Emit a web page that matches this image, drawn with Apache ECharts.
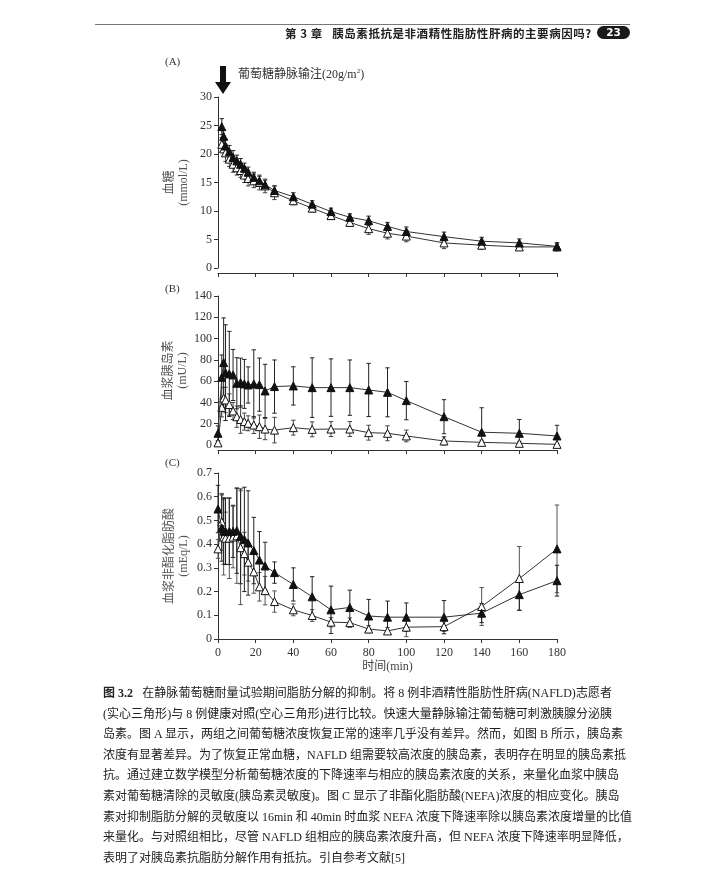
<!DOCTYPE html>
<html>
<head>
<meta charset="utf-8">
<script src="https://cdn.jsdelivr.net/npm/echarts@6/dist/echarts.min.js"></script>
<style>
  html, body { margin: 0; padding: 0; background: #fff; }
  #wrap { position: relative; width: 716px; height: 881px; overflow: hidden; }
  #chart { position: absolute; left: 0; top: 0; width: 716px; height: 881px; }
  #hdrline { position: absolute; left: 95px; top: 24px; width: 535px; height: 0; border-top: 1.2px solid #777; }
  #hdr { position: absolute; left: 285px; top: 25px; font-family: "Noto Sans CJK SC", sans-serif; font-weight: bold; font-size: 11.5px; color: #222; letter-spacing: 0.55px; white-space: nowrap; line-height: 16px; }
  #pill { position: absolute; left: 597px; top: 26px; width: 33px; height: 13px; border-radius: 7px; background: #1a1a1a; color: #fff; font-family: "DejaVu Sans", sans-serif; font-weight: bold; font-size: 10.5px; line-height: 13px; text-align: center; }
  #cap { position: absolute; left: 103px; top: 683px; width: 509px; font-family: "Liberation Serif", "Noto Sans CJK SC", serif; font-size: 12px; color: #222; }
  #cap div { height: 20.6px; line-height: 20.6px; text-align: justify; text-align-last: justify; white-space: nowrap; }
  #cap div.last { text-align-last: left; }
</style>
</head>
<body>
<div id="wrap">
  <div id="chart"></div>
  <div id="hdrline"></div>
  <div id="hdr">第 3 章&nbsp;&nbsp;&nbsp;胰岛素抵抗是非酒精性脂肪性肝病的主要病因吗?</div>
  <div id="pill">23</div>
  <div id="cap">
    <div><b>图 3.2</b>&nbsp;&nbsp;&nbsp;在静脉葡萄糖耐量试验期间脂肪分解的抑制。将 8 例非酒精性脂肪性肝病(NAFLD)志愿者</div>
    <div>(实心三角形)与 8 例健康对照(空心三角形)进行比较。快速大量静脉输注葡萄糖可刺激胰腺分泌胰</div>
    <div>岛素。图 A 显示，两组之间葡萄糖浓度恢复正常的速率几乎没有差异。然而，如图 B 所示，胰岛素</div>
    <div>浓度有显著差异。为了恢复正常血糖，NAFLD 组需要较高浓度的胰岛素，表明存在明显的胰岛素抵</div>
    <div>抗。通过建立数学模型分析葡萄糖浓度的下降速率与相应的胰岛素浓度的关系，来量化血浆中胰岛</div>
    <div>素对葡萄糖清除的灵敏度(胰岛素灵敏度)。图 C 显示了非酯化脂肪酸(NEFA)浓度的相应变化。胰岛</div>
    <div>素对抑制脂肪分解的灵敏度以 16min 和 40min 时血浆 NEFA 浓度下降速率除以胰岛素浓度增量的比值</div>
    <div>来量化。与对照组相比，尽管 NAFLD 组相应的胰岛素浓度升高，但 NEFA 浓度下降速率明显降低，</div>
    <div class="last">表明了对胰岛素抗脂肪分解作用有抵抗。引自参考文献[5]</div>
  </div>
</div>
<script>
// ---------- data ----------
const timesA = [2,3,4,6,8,10,12,14,16,19,22,25,30,40,50,60,70,80,90,100,120,140,160,180];
const timesBC = [0,2,3,4,6,8,10,12,14,16,19,22,25,30,40,50,60,70,80,90,100,120,140,160,180];

// Panel A: blood glucose (mmol/L)
const glucoseNafld = [24.8,23.1,21.4,20.4,19.4,18.8,18.2,17.5,16.8,15.9,15.3,14.6,13.6,12.5,11.2,9.9,8.9,8.3,7.3,6.4,5.5,4.7,4.4,3.8];
const glucoseNafldSd = [1.4,1.2,1.2,1.1,1.2,1.0,1.0,0.9,0.9,0.9,0.8,0.8,0.8,0.7,0.6,0.6,0.6,0.8,0.7,0.8,0.8,0.7,0.7,0.6];
const glucoseCtrl = [21.7,20.9,20.2,19.1,18.2,17.6,17.1,16.3,15.7,15.3,15.0,14.4,13.2,11.8,10.5,9.2,8.0,6.9,6.1,5.6,4.4,4.0,3.7,3.7];
const glucoseCtrlSd = [1.2,1.3,1.5,1.3,1.4,1.3,1.2,1.3,1.3,1.2,1.3,1.2,1.2,0.7,0.7,0.7,0.7,1.0,1.0,1.0,1.0,0.7,0.6,0.7];

// Panel B: plasma insulin (mU/L)
const insulinNafld = [11,63.6,77.4,68,66.8,65.8,58,58.6,57.4,56.4,57.4,56.7,50.8,54.9,55.5,53.9,53.9,53.9,51.7,49.5,41.7,26.6,12,11,8.5];
const insulinNafldSd = [7,21,42,45,40,24,24,23,23,17,32,25,25,25,18,28,27,26,25,23,18,16,23,13,10];
const insulinCtrl = [2,35.4,44,42.3,38,32,26.6,24,22,20.4,18.8,17.2,15,14,16.3,14.7,15,15,11.6,11,8.5,3.8,2.5,1.6,0.6];
const insulinCtrlSd = [1,9,10,12,10,8,10,13,8,7,8,11,10,12,7,7,7,7,7,7,5.5,4,2,1.5,1];

// Panel C: plasma NEFA (mEq/L)
const nefaNafld = [0.548,0.468,0.455,0.454,0.454,0.454,0.457,0.433,0.42,0.405,0.373,0.333,0.308,0.28,0.23,0.178,0.123,0.133,0.097,0.092,0.092,0.092,0.109,0.187,0.246];
const nefaNafldSd = [0.1,0.14,0.14,0.14,0.14,0.11,0.18,0.2,0.22,0.22,0.14,0.12,0.1,0.045,0.07,0.085,0.1,0.073,0.07,0.068,0.06,0.07,0.04,0.065,0.065];
const nefaCtrl = [0.38,0.494,0.43,0.425,0.425,0.43,0.435,0.385,0.36,0.324,0.283,0.22,0.204,0.158,0.123,0.099,0.071,0.069,0.042,0.034,0.05,0.052,0.137,0.255,0.38];
const nefaCtrlSd = [0.04,0.12,0.16,0.11,0.17,0.13,0.2,0.24,0.09,0.08,0.09,0.06,0.06,0.045,0.025,0.025,0.02,0.02,0.015,0.015,0.04,0.02,0.08,0.135,0.185];

const ticksA = ['0','5','10','15','20','25','30'];
const ticksB = ['0','20','40','60','80','100','120','140'];
const ticksC = ['0','0.1','0.2','0.3','0.4','0.5','0.6','0.7'];
const ticksX = ['0','20','40','60','80','100','120','140','160','180'];

// ---------- chart ----------
const chart = echarts.init(document.getElementById('chart'));
const serif = '"Liberation Serif", "Noto Sans CJK SC", serif';
const axisColor = '#333';

function pairs(t, v) { return t.map((x, i) => [x, v[i]]); }
function bars(t, v, sd) { return t.map((x, i) => [x, Math.max(0, v[i] - sd[i]), v[i] + sd[i]]); }

function errSeries(idx, data, color) {
  return {
    type: 'custom', xAxisIndex: idx, yAxisIndex: idx, z: 1, silent: true,
    data: data,
    renderItem: function (params, api) {
      const x = api.value(0);
      const lo = api.coord([x, api.value(1)]);
      const hi = api.coord([x, api.value(2)]);
      const w = 2.2;
      const st = { stroke: color, lineWidth: 1 };
      return { type: 'group', children: [
        { type: 'line', shape: { x1: lo[0], y1: lo[1], x2: hi[0], y2: hi[1] }, style: st },
        { type: 'line', shape: { x1: hi[0] - w, y1: hi[1], x2: hi[0] + w, y2: hi[1] }, style: st },
        { type: 'line', shape: { x1: lo[0] - w, y1: lo[1], x2: lo[0] + w, y2: lo[1] }, style: st }
      ]};
    }
  };
}
function lineSeries(idx, data, filled) {
  return {
    type: 'line', xAxisIndex: idx, yAxisIndex: idx, z: filled ? 4 : 3,
    data: data, symbol: 'triangle', symbolSize: 8, showAllSymbol: true,
    lineStyle: { color: '#333', width: 1 },
    itemStyle: filled ? { color: '#111', borderColor: '#111', borderWidth: 1 }
                      : { color: '#fff', borderColor: '#111', borderWidth: 1 },
    emphasis: { disabled: true }
  };
}
function yAxis(idx, max, interval, ticks, name) {
  return {
    type: 'value', gridIndex: idx, min: 0, max: max, interval: interval,
    name: name, nameLocation: 'middle', nameRotate: 90, nameGap: 27,
    nameTextStyle: { fontFamily: serif, fontSize: 12, color: '#555', lineHeight: 14 },
    axisLine: { show: true, lineStyle: { color: axisColor, width: 1 } },
    axisTick: { show: true, length: 4, lineStyle: { color: axisColor } },
    axisLabel: { fontFamily: serif, fontSize: 12, color: '#333', margin: 6,
      formatter: function (v) { const i = Math.round(v / interval); return ticks[i]; } },
    splitLine: { show: false }
  };
}
function xAxis(idx, showLabels, offset) {
  return {
    type: 'value', gridIndex: idx, min: 0, max: 180, interval: 20, offset: offset,
    name: showLabels ? '时间(min)' : '', nameLocation: 'middle', nameGap: 22,
    nameTextStyle: { fontFamily: serif, fontSize: 12, color: '#444' },
    axisLine: { show: true, onZero: false, lineStyle: { color: axisColor, width: 1 } },
    axisTick: { show: true, length: 4, lineStyle: { color: axisColor } },
    axisLabel: { show: showLabels, fontFamily: serif, fontSize: 12, color: '#333', margin: 8,
      formatter: function (v) { return ticksX[Math.round(v / 20)]; } },
    splitLine: { show: false }
  };
}

const ctrlCData = pairs(timesBC, nefaCtrl).map((p, i, arr) =>
  i === arr.length - 1 ? { value: p, itemStyle: { color: '#111' } } : p);

const option = {
  animation: false,
  backgroundColor: 'transparent',
  grid: [
    { left: 218, top: 97, width: 339, height: 171 },
    { left: 218, top: 296, width: 339, height: 149 },
    { left: 218, top: 473, width: 339, height: 166 }
  ],
  xAxis: [xAxis(0, false, 5), xAxis(1, false, 5), xAxis(2, true, 0)],
  yAxis: [
    yAxis(0, 30, 5, ticksA, '血糖\n(mmol/L)'),
    yAxis(1, 140, 20, ticksB, '血浆胰岛素\n(mU/L)'),
    yAxis(2, 0.7, 0.1, ticksC, '血浆非酯化脂肪酸\n(mEq/L)')
  ],
  graphic: [
    { type: 'text', left: 165, top: 57, style: { text: '(A)', font: '11px ' + serif, fill: '#333' } },
    { type: 'text', left: 165, top: 284, style: { text: '(B)', font: '11px ' + serif, fill: '#333' } },
    { type: 'text', left: 165, top: 458, style: { text: '(C)', font: '11px ' + serif, fill: '#333' } },
    { type: 'polygon', shape: { points: [[220,66],[226,66],[226,82],[231,82],[223,94],[215,82],[220,82]] }, style: { fill: '#111' } },
    { type: 'text', left: 238, top: 68, style: {
        text: '{a|葡萄糖静脉输注(20g/m}{s|2}{a|)}',
        rich: { a: { fontFamily: serif, fontSize: 12, fill: '#333' }, s: { fontFamily: serif, fontSize: 7, fill: '#333', verticalAlign: 'top', padding: [0,0,6,0] } } } }
  ],
  series: [
    errSeries(0, bars(timesA, glucoseCtrl, glucoseCtrlSd), '#444'),
    errSeries(0, bars(timesA, glucoseNafld, glucoseNafldSd), '#222'),
    lineSeries(0, pairs(timesA, glucoseCtrl), false),
    lineSeries(0, pairs(timesA, glucoseNafld), true),
    errSeries(1, bars(timesBC, insulinCtrl, insulinCtrlSd), '#444'),
    errSeries(1, bars(timesBC, insulinNafld, insulinNafldSd), '#222'),
    lineSeries(1, pairs(timesBC, insulinCtrl), false),
    lineSeries(1, pairs(timesBC, insulinNafld), true),
    errSeries(2, bars(timesBC, nefaCtrl, nefaCtrlSd), '#555'),
    errSeries(2, bars(timesBC, nefaNafld, nefaNafldSd), '#222'),
    lineSeries(2, ctrlCData, false),
    lineSeries(2, pairs(timesBC, nefaNafld), true)
  ]
};
chart.setOption(option);
</script>
</body>
</html>
